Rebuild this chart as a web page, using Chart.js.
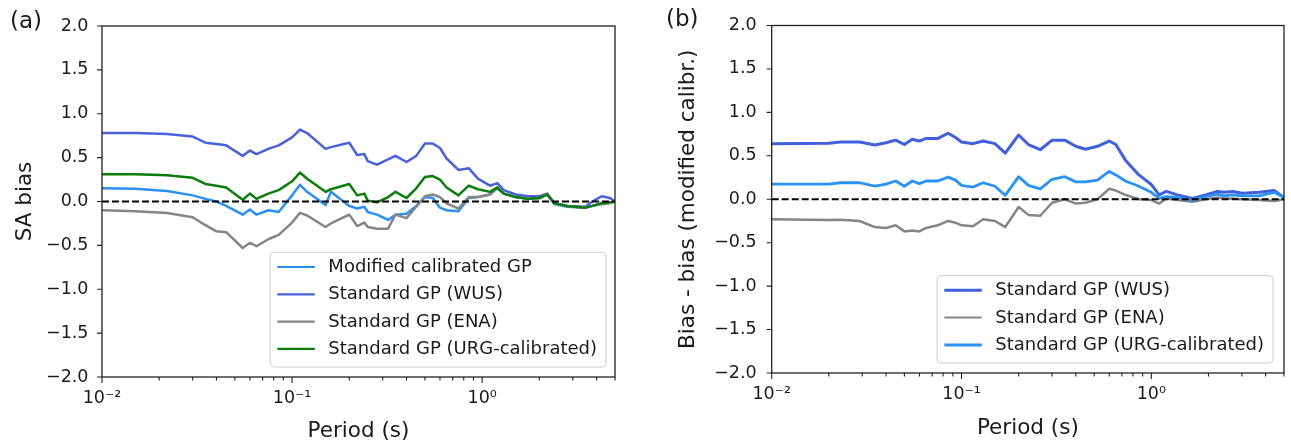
<!DOCTYPE html>
<html><head><meta charset="utf-8">
<script src="https://cdn.jsdelivr.net/npm/chart.js@4/dist/chart.umd.min.js"></script>
<style>
html,body{margin:0;padding:0;background:#fff;width:1291px;height:447px;overflow:hidden;}
.wrap{position:absolute;top:0;height:447px;}
canvas{display:block;}
.lab{position:absolute;font-family:"DejaVu Sans";font-size:23px;line-height:23px;color:#1a1a1a;}
</style></head><body>
<div class="wrap" style="left:0;width:645px"><canvas id="ca" width="645" height="447"></canvas></div>
<div class="wrap" style="left:645px;width:646px"><canvas id="cb" width="646" height="447"></canvas></div>
<div class="lab" style="left:10px;top:9px">(a)</div>
<div class="lab" style="left:666px;top:7px">(b)</div>
<script>
// ---------- data ----------
const PERIOD_A = [0.01,0.015,0.022,0.03,0.035,0.04,0.045,0.055,0.06,0.065,0.075,0.085,0.1,0.11,0.12,0.15,0.16,0.2,0.22,0.24,0.25,0.28,0.32,0.35,0.4,0.45,0.5,0.55,0.6,0.65,0.75,0.85,0.95,1.1,1.2,1.3,1.5,1.75,2.0,2.2,2.4,2.8,3.5,3.8,4.25,4.7,5.0];
const MOD_CAL_A = [0.15,0.145,0.12,0.07,0.03,0.0,-0.05,-0.15,-0.09,-0.15,-0.10,-0.12,0.07,0.19,0.11,-0.04,0.11,-0.05,-0.08,-0.06,-0.12,-0.15,-0.21,-0.15,-0.14,-0.05,0.05,0.04,-0.07,-0.10,-0.11,0.04,0.05,0.08,0.15,0.09,0.05,0.03,0.04,0.08,-0.03,-0.06,-0.07,-0.05,-0.02,-0.01,0.0];
const WUS_A = [0.78,0.78,0.77,0.74,0.67,0.655,0.64,0.52,0.58,0.54,0.60,0.64,0.73,0.82,0.78,0.60,0.62,0.67,0.53,0.54,0.46,0.42,0.48,0.52,0.45,0.52,0.66,0.66,0.61,0.49,0.36,0.38,0.26,0.18,0.21,0.13,0.08,0.06,0.06,0.09,-0.02,-0.05,-0.06,0.0,0.06,0.04,0.0];
const ENA_A = [-0.10,-0.11,-0.13,-0.18,-0.27,-0.34,-0.35,-0.53,-0.47,-0.51,-0.43,-0.38,-0.24,-0.13,-0.16,-0.29,-0.25,-0.15,-0.28,-0.24,-0.29,-0.31,-0.31,-0.15,-0.19,-0.06,0.06,0.08,0.05,-0.02,-0.08,0.05,0.05,0.08,0.16,0.09,0.05,0.03,0.04,0.08,-0.02,-0.05,-0.07,-0.05,-0.03,-0.02,0.0];
const URG_A = [0.31,0.31,0.30,0.27,0.20,0.18,0.16,0.02,0.09,0.03,0.09,0.13,0.23,0.33,0.26,0.11,0.14,0.20,0.07,0.09,0.01,-0.01,0.05,0.11,0.04,0.15,0.28,0.29,0.25,0.16,0.07,0.18,0.14,0.11,0.16,0.09,0.05,0.03,0.04,0.08,-0.02,-0.05,-0.07,-0.05,-0.02,-0.01,0.0];

const PERIOD_B = [0.01,0.02,0.023,0.029,0.035,0.04,0.045,0.05,0.055,0.06,0.065,0.075,0.085,0.093,0.1,0.115,0.13,0.15,0.17,0.2,0.225,0.26,0.3,0.35,0.4,0.45,0.52,0.6,0.65,0.73,0.86,1.0,1.1,1.2,1.37,1.65,1.93,2.23,2.41,2.68,3.02,3.7,4.44,5.0];
const WUS_B = [0.64,0.645,0.66,0.66,0.625,0.65,0.68,0.63,0.69,0.67,0.70,0.70,0.76,0.71,0.66,0.64,0.67,0.64,0.53,0.74,0.63,0.57,0.68,0.68,0.61,0.575,0.61,0.67,0.63,0.45,0.28,0.17,0.05,0.09,0.05,0.01,0.05,0.09,0.08,0.09,0.07,0.08,0.10,0.02];
const ENA_B = [-0.23,-0.24,-0.235,-0.25,-0.32,-0.33,-0.30,-0.37,-0.36,-0.37,-0.33,-0.30,-0.25,-0.27,-0.30,-0.31,-0.23,-0.25,-0.32,-0.09,-0.18,-0.19,-0.04,0.00,-0.05,-0.04,0.00,0.12,0.10,0.05,0.0,-0.01,-0.05,0.01,-0.01,-0.03,0.0,0.02,0.01,0.01,0.0,-0.01,-0.02,0.0];
const URG_B = [0.175,0.175,0.19,0.19,0.15,0.175,0.21,0.15,0.21,0.18,0.21,0.21,0.255,0.22,0.16,0.14,0.19,0.15,0.045,0.26,0.16,0.12,0.23,0.26,0.20,0.20,0.22,0.32,0.28,0.21,0.15,0.08,0.01,0.03,0.02,-0.01,0.03,0.06,0.04,0.05,0.04,0.04,0.08,0.02];

const ZERO_LINE_X = [0.01, 5.0];
const ZERO_LINE_Y = [0, 0];

const X_MIN = 0.01, X_MAX = 5.0;
const X_TICK_VALUES = [0.01, 0.1, 1];
const X_TICK_LABELS = ['10\u207B\u00B2', '10\u207B\u00B9', '10\u2070'];
const Y_MIN = -2, Y_MAX = 2, Y_STEP = 0.5;
const X_TITLE = 'Period (s)';
const Y_TITLE_A = 'SA bias';
const Y_TITLE_B = 'Bias - bias (modified calibr.)';

// ---------- styling ----------
const FONT = 'DejaVu Sans';
const TEXT = '#1a1a1a';
const C_LIGHT = '#2b8ff0', C_WUS = '#4a62d8', C_ENA = '#858585', C_URG = '#0b7d0b';

function pts(xs, ys) { return xs.map((x, i) => ({ x: x, y: ys[i] })); }
function fmtY(v) { return (v < 0 ? '\u2212' : '') + Math.abs(v).toFixed(1); }
function minorTicks() {
  const out = [];
  X_TICK_VALUES.forEach(d => { for (let k = 2; k <= 9; k++) { const v = k * d; if (v <= X_MAX * 1.0001) out.push(v); } });
  return out;
}

const framePlugin = {
  id: 'frame',
  afterDraw(chart, args, o) {
    const { ctx, chartArea: a } = chart;
    const xs = chart.scales.x, ys = chart.scales.y;
    ctx.save();
    ctx.strokeStyle = '#222'; ctx.lineWidth = 1.1;
    ctx.beginPath();
    X_TICK_VALUES.forEach(v => { const p = xs.getPixelForValue(v); ctx.moveTo(p, a.bottom); ctx.lineTo(p, a.bottom + 6); });
    minorTicks().forEach(v => { const p = xs.getPixelForValue(v); ctx.moveTo(p, a.bottom); ctx.lineTo(p, a.bottom + 3.5); });
    ys.ticks.forEach(t => { const p = ys.getPixelForValue(t.value); ctx.moveTo(a.left, p); ctx.lineTo(a.left - 5, p); });
    ctx.stroke();
    ctx.lineWidth = 1.3;
    ctx.strokeRect(a.left, a.top, a.right - a.left, a.bottom - a.top);

    // legend
    const items = chart.data.datasets.filter(d => d.label);
    ctx.font = '18px "' + FONT + '"';
    const tw = Math.max.apply(null, items.map(d => ctx.measureText(d.label).width));
    const pad = 7.2, hl = 37.5, gap = 13.5, rowH = 27.3, first = 14.7;
    const w = pad + hl + gap + tw + 9;
    const h = first * 2 + (items.length - 1) * rowH + 3.4;
    const right = a.right - o.legendRight, bottom = a.bottom - 10;
    const left = right - w, top = bottom - h;
    const r = 4;
    ctx.beginPath();
    ctx.moveTo(left + r, top); ctx.lineTo(right - r, top); ctx.arcTo(right, top, right, top + r, r);
    ctx.lineTo(right, bottom - r); ctx.arcTo(right, bottom, right - r, bottom, r);
    ctx.lineTo(left + r, bottom); ctx.arcTo(left, bottom, left, bottom - r, r);
    ctx.lineTo(left, top + r); ctx.arcTo(left, top, left + r, top, r);
    ctx.closePath();
    ctx.fillStyle = 'rgba(255,255,255,0.85)'; ctx.fill();
    ctx.strokeStyle = '#cccccc'; ctx.lineWidth = 1; ctx.stroke();
    items.forEach((d, i) => {
      const y = top + first + i * rowH;
      ctx.beginPath();
      ctx.strokeStyle = d.borderColor; ctx.lineWidth = d.legendWidth || d.borderWidth;
      ctx.moveTo(left + pad, y); ctx.lineTo(left + pad + hl, y); ctx.stroke();
      ctx.fillStyle = TEXT; ctx.textBaseline = 'middle'; ctx.textAlign = 'left';
      ctx.fillText(d.label, left + pad + hl + gap, y + 0.5);
    });
    ctx.restore();
  }
};

function buildChart(id, cfg) {
  return new Chart(document.getElementById(id), {
    type: 'line',
    data: { datasets: cfg.datasets },
    options: {
      responsive: false, animation: false, events: [],
      layout: { autoPadding: false, padding: cfg.padding },
      elements: { point: { radius: 0 }, line: { tension: 0, borderJoinStyle: 'round', borderCapStyle: 'butt' } },
      plugins: { legend: { display: false }, tooltip: { enabled: false }, frame: { legendRight: cfg.legendRight } },
      scales: {
        x: {
          type: 'logarithmic', min: X_MIN, max: X_MAX,
          grid: { display: false, drawTicks: false }, border: { display: false },
          afterBuildTicks: s => { s.ticks = X_TICK_VALUES.map(v => ({ value: v, major: true })); },
          ticks: { autoSkip: false, maxRotation: 0, minRotation: 0, padding: cfg.xTickPad, color: TEXT,
                   font: { family: FONT, size: 17.5 },
                   callback: v => { const i = X_TICK_VALUES.indexOf(v); return i >= 0 ? X_TICK_LABELS[i] : ''; } },
          title: { display: true, text: X_TITLE, color: TEXT, font: { family: FONT, size: 21.5 }, padding: { top: 0, bottom: cfg.xTitlePad } },
          afterFit: s => { s.height = cfg.xHeight; }
        },
        y: {
          type: 'linear', min: Y_MIN, max: Y_MAX,
          grid: { display: false, drawTicks: false }, border: { display: false },
          ticks: { stepSize: Y_STEP, padding: cfg.yTickPad, color: TEXT, font: { family: FONT, size: 17.5 }, callback: v => fmtY(v) },
          title: { display: true, text: cfg.yTitle, color: TEXT, font: { family: FONT, size: 21.5 }, padding: { top: cfg.yTitlePad, bottom: 0 } },
          afterFit: s => { s.width = cfg.yWidth; }
        }
      }
    },
    plugins: [framePlugin]
  });
}

const dashed = { label: '', data: pts(ZERO_LINE_X, ZERO_LINE_Y), borderColor: '#000', borderWidth: 1.8, borderDash: [7, 3], order: 0 };

buildChart('ca', {
  padding: { left: 0, top: 26, right: 30, bottom: 0 },
  yWidth: 102, xHeight: 70, yTickPad: 13.5, xTickPad: 11, yTitlePad: 12.1, xTitlePad: 3.1,
  yTitle: Y_TITLE_A, legendRight: 9,
  datasets: [
    { label: 'Modified calibrated GP', data: pts(PERIOD_A, MOD_CAL_A), borderColor: C_LIGHT, borderWidth: 2.5, legendWidth: 2.2, order: 4 },
    { label: 'Standard GP (WUS)', data: pts(PERIOD_A, WUS_A), borderColor: C_WUS, borderWidth: 2.5, legendWidth: 2.2, order: 3 },
    { label: 'Standard GP (ENA)', data: pts(PERIOD_A, ENA_A), borderColor: C_ENA, borderWidth: 2.5, legendWidth: 2.2, order: 2 },
    { label: 'Standard GP (URG-calibrated)', data: pts(PERIOD_A, URG_A), borderColor: C_URG, borderWidth: 2.5, legendWidth: 2.2, order: 1 },
    Object.assign({}, dashed)
  ]
});

buildChart('cb', {
  padding: { left: 0, top: 22.7, right: 7, bottom: 0 },
  yWidth: 126.7, xHeight: 74, yTickPad: 15, xTickPad: 11, yTitlePad: 30.1, xTitlePad: 6,
  yTitle: Y_TITLE_B, legendRight: 11,
  datasets: [
    { label: 'Standard GP (WUS)', data: pts(PERIOD_B, WUS_B), borderColor: '#3f5fdc', borderWidth: 3, legendWidth: 3, order: 3 },
    { label: 'Standard GP (ENA)', data: pts(PERIOD_B, ENA_B), borderColor: C_ENA, borderWidth: 2.5, legendWidth: 2, order: 2 },
    { label: 'Standard GP (URG-calibrated)', data: pts(PERIOD_B, URG_B), borderColor: '#2a92f2', borderWidth: 2.8, legendWidth: 3, order: 1 },
    Object.assign({}, dashed)
  ]
});
</script>
</body></html>
